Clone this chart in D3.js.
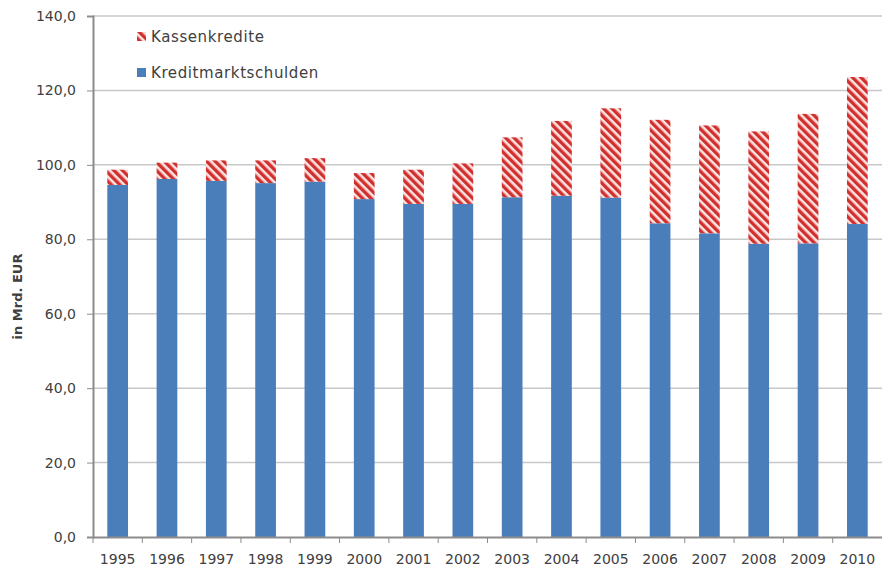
<!DOCTYPE html>
<html>
<head>
<meta charset="utf-8">
<script src="https://cdn.jsdelivr.net/npm/d3@7"></script>
<style>
  body { margin: 0; background: #fff; }
  svg text { font-family: "DejaVu Sans", sans-serif; fill: #404040; }
</style>
</head>
<body>
<script>
// data (Mrd. EUR)
var years = ["1995","1996","1997","1998","1999","2000","2001","2002",
             "2003","2004","2005","2006","2007","2008","2009","2010"];
var kreditmarkt = [94.6, 96.2, 95.7, 95.1, 95.5, 90.8, 89.5, 89.5,
                   91.3, 91.7, 91.2, 84.3, 81.6, 78.8, 78.9, 84.1];
var gesamt = [98.7, 100.6, 101.2, 101.2, 101.8, 97.8, 98.7, 100.4,
              107.4, 111.8, 115.2, 112.1, 110.6, 109.0, 113.7, 123.6];
var kassen = gesamt.map(function(t, i) { return +(t - kreditmarkt[i]).toFixed(1); });
var yTicks = [0, 20, 40, 60, 80, 100, 120, 140];

var width = 882, height = 572;
var margin = {top: 16, right: 0, bottom: 35, left: 93};
var w = width - margin.left - margin.right,
    h = height - margin.top - margin.bottom;

var svg = d3.select("body").append("svg")
    .attr("width", width)
    .attr("height", height);

// hatch pattern for Kassenkredite
var defs = svg.append("defs");
var pat = defs.append("pattern")
    .attr("id", "hatch")
    .attr("patternUnits", "userSpaceOnUse")
    .attr("width", 6)
    .attr("height", 6)
    .attr("patternTransform", "rotate(-45)");
pat.append("rect").attr("width", 6).attr("height", 6).attr("fill", "#fbe3e2");
pat.append("rect").attr("width", 3.4).attr("height", 6).attr("fill", "#d0302e");

var g = svg.append("g")
    .attr("transform", "translate(" + margin.left + "," + margin.top + ")");

var x = d3.scaleBand().domain(years).range([0, w]).paddingInner(0.58).paddingOuter(0.29);
var y = d3.scaleLinear().domain([0, 140]).range([h, 0]);

// grid lines
g.selectAll(".grid")
  .data(yTicks.slice(1))
  .enter().append("line")
  .attr("x1", 0).attr("x2", w)
  .attr("y1", function(d) { return y(d); })
  .attr("y2", function(d) { return y(d); })
  .attr("stroke", "#c8c8c8")
  .attr("stroke-width", 1.5);

// y axis
var yAxis = d3.axisLeft(y).tickValues(yTicks).tickSize(6).tickPadding(8)
    .tickFormat(function(d) { return d3.format(".1f")(d).replace(".", ","); });
var ya = g.append("g").call(yAxis);
ya.select(".domain").attr("stroke", "#8c8c8c").attr("stroke-width", 2);
ya.selectAll(".tick line").attr("stroke", "#8c8c8c");
ya.selectAll("text").style("font-size", "14px").attr("dx", "-3");

// bars: Kreditmarktschulden
g.selectAll(".blue")
  .data(years)
  .enter().append("rect")
  .attr("x", function(d) { return x(d); })
  .attr("width", x.bandwidth())
  .attr("y", function(d, i) { return y(kreditmarkt[i]); })
  .attr("height", function(d, i) { return y(0) - y(kreditmarkt[i]); })
  .attr("fill", "#4a7ebb");

// bars: Kassenkredite
g.selectAll(".red")
  .data(years)
  .enter().append("rect")
  .attr("x", function(d) { return x(d); })
  .attr("width", x.bandwidth())
  .attr("y", function(d, i) { return y(kreditmarkt[i] + kassen[i]); })
  .attr("height", function(d, i) { return y(kreditmarkt[i]) - y(kreditmarkt[i] + kassen[i]); })
  .attr("fill", "url(#hatch)");

// x axis
var xAxis = d3.axisBottom(x).tickSize(0).tickPadding(17);
var xa = g.append("g").attr("transform", "translate(0," + h + ")").call(xAxis);
xa.select(".domain").attr("stroke", "#8c8c8c").attr("stroke-width", 2);
xa.selectAll("text").style("font-size", "14px");
// tick marks between categories
var step = x.step();
xa.selectAll(".sep")
  .data(years)
  .enter().append("line")
  .attr("x1", function(d, i) { return i * step; })
  .attr("x2", function(d, i) { return i * step; })
  .attr("y1", 0).attr("y2", 6)
  .attr("stroke", "#8c8c8c");

// y label
svg.append("text")
  .attr("transform", "translate(22," + (margin.top + h / 2 + 20) + ") rotate(-90)")
  .attr("text-anchor", "middle")
  .style("font-size", "13px")
  .style("font-weight", "bold")
  .text("in Mrd. EUR");

// legend
var legendData = [
  {name: "Kassenkredite", fill: "url(#hatch)"},
  {name: "Kreditmarktschulden", fill: "#4a7ebb"}
];
var legend = svg.selectAll(".legend")
  .data(legendData)
  .enter().append("g")
  .attr("transform", function(d, i) { return "translate(137," + (32 + i * 36) + ")"; });
legend.append("rect")
  .attr("width", 9).attr("height", 9)
  .attr("fill", function(d) { return d.fill; });
legend.append("text")
  .attr("x", 14).attr("y", 5).attr("dy", ".35em")
  .style("font-size", "15px")
  .style("letter-spacing", "0.6px")
  .text(function(d) { return d.name; });
</script>
</body>
</html>
